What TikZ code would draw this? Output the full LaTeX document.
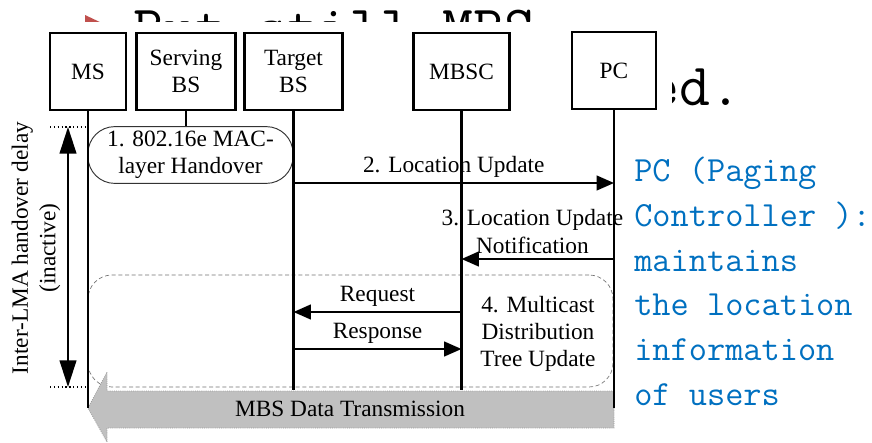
\documentclass[tikz,border=0pt]{standalone}
\usepackage{fontspec}
\setmainfont{Liberation Serif}
\usetikzlibrary{arrows.meta}
\definecolor{noteblue}{RGB}{0,112,192}
\definecolor{bulletred}{RGB}{192,80,77}
\definecolor{bandgray}{RGB}{192,192,192}
\begin{document}
\begin{tikzpicture}[x=0.75pt,y=-0.75pt,
    every node/.style={font=\fontsize{17.5}{20.5}\selectfont, align=center},
    entity/.style={draw, line width=1.8pt, minimum height=57.75pt, inner sep=2pt},
    life/.style={line width=1.6pt},
    msg/.style={line width=1.6pt, -{Triangle[length=13pt,width=11pt]}},
    pill/.style={draw=black!80, line width=0.7pt, rounded corners=20pt, minimum width=153.75pt, minimum height=42pt},
    phase/.style={draw=black!55, line width=0.5pt, dash pattern=on 3pt off 2pt, rounded corners=18pt},
    band/.style={fill=bandgray, draw=black!40, line width=0.6pt, densely dotted},
    guide/.style={line width=0.9pt, dotted},
    span/.style={line width=1.6pt, {Triangle[length=20pt,width=12.5pt]}-{Triangle[length=20pt,width=12.5pt]}},
    slide/.style={font=\ttfamily\fontsize{45}{45}\selectfont, inner sep=0pt, anchor=base west},
    note/.style={font=\ttfamily\fontsize{26.5}{33.5}\selectfont, text=noteblue, align=left, inner sep=0pt, anchor=north west}]
    \useasboundingbox (0,0) rectangle (872,443);
    % slide text behind the figure
    \fill[bulletred] (85,15) -- (104,24) -- (85,33) -- cycle;
    \node[slide] (line1) at (133,47) {But still MBS};
    \node[slide] (line2) at (648,105) {ed.};
    \fill[white] (0,22) rectangle (672,443);
    % entities
    \node[entity, minimum width=57pt] (ms) at (88,71.5) {MS};
    \node[entity, minimum width=74.25pt] (sbs) at (186,71.5) {Serving\\BS};
    \node[entity, minimum width=73.5pt] (tbs) at (293.5,71.5) {Target\\BS};
    \node[entity, minimum width=72pt] (mbsc) at (461.5,71.5) {MBSC};
    \node[entity, minimum width=63pt] (pc) at (614,70.5) {PC};
    % phases
    \node[pill] (ho) at (190.5,155) {1. 802.16e MAC-\\layer Handover};
    \node[phase, minimum width=393.75pt, minimum height=84pt] (tree) at (350.5,331) {};
    \node (mct) at (538,334) {4. Multicast\\Distribution\\Tree Update};
    % data transmission
    \draw[band] (614,391) -- (107,391) -- (107,372) -- (88,408) -- (107,442) -- (107,428) -- (614,428) -- cycle;
    \node (mbs) at (350,409) {MBS Data Transmission};
    % lifelines
    \coordinate (ms-end) at (88,408);
    \coordinate (tbs-end) at (293.5,390);
    \coordinate (mbsc-end) at (461.5,390);
    \coordinate (pc-end) at (614,408);
    \draw[life] (ms) -- (ms-end);
    \draw[life] (sbs) -- (sbs |- ho.north);
    \draw[life] (tbs) -- (tbs-end);
    \draw[life] (mbsc) -- (mbsc-end);
    \draw[life] (pc) -- (pc-end);
    % messages
    \coordinate (tbs-2) at (293.5,183);
    \coordinate (pc-2) at (614,183);
    \coordinate (pc-3) at (614,259);
    \coordinate (mbsc-3) at (461.5,259);
    \coordinate (mbsc-4) at (461.5,312);
    \coordinate (tbs-4) at (293.5,312);
    \coordinate (tbs-5) at (293.5,349);
    \coordinate (mbsc-5) at (461.5,349);
    \draw[msg] (tbs-2) -- node[above]{2. Location Update} (pc-2);
    \draw[msg] (pc-3) -- node[above, xshift=-4pt]{3. Location Update\\Notification} (mbsc-3);
    \draw[msg] (mbsc-4) -- node[above]{Request} (tbs-4);
    \draw[msg] (tbs-5) -- node[above]{Response} (mbsc-5);
    % handover delay
    \coordinate (d-top) at (68,127);
    \coordinate (d-bot) at (68,387);
    \coordinate (g-top) at (50,127);
    \coordinate (g-bot) at (50,387);
    \draw[guide] (g-top) -- (ms |- g-top);
    \draw[guide] (g-bot) -- (ms |- g-bot);
    \draw[span] (d-top) -- (d-bot);
    \node[rotate=90] (delay) at (36,248) {Inter-LMA handover delay\\(inactive)};
    % note on the slide
    \node[note] (pcnote) at (634,157) {PC (Paging\\Controller ):\\maintains\\the location\\information\\of users};
\end{tikzpicture}
\end{document}
